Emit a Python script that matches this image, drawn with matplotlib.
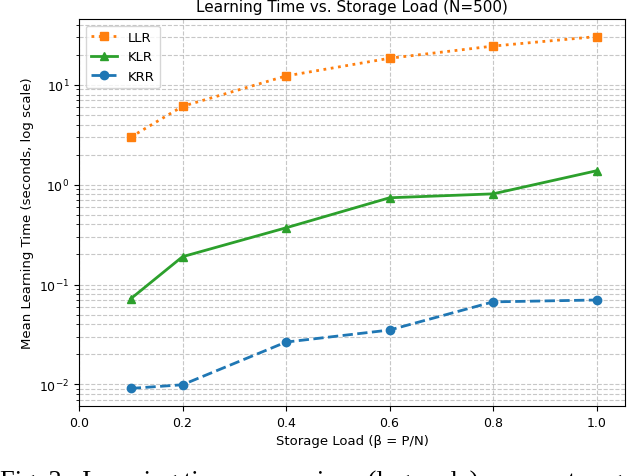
import matplotlib
matplotlib.use("Agg")
import matplotlib.pyplot as plt

beta = [0.1, 0.2, 0.4, 0.6, 0.8, 1.0]
llr_time = [3.0, 6.1, 12.3, 18.5, 24.5, 30.5]
klr_time = [0.072, 0.19, 0.37, 0.74, 0.81, 1.38]
krr_time = [0.0091, 0.0099, 0.0265, 0.035, 0.067, 0.070]

fig = plt.figure(figsize=(6.4, 4.77), dpi=100)
ax = fig.add_axes([79 / 640, 70 / 477, 546 / 640, 387 / 477])

ax.plot(beta, llr_time, color="#ff7f0e", linestyle=":", linewidth=2,
        marker="s", markersize=6, label="LLR")
ax.plot(beta, klr_time, color="#2ca02c", linestyle="-", linewidth=2,
        marker="^", markersize=6, label="KLR")
ax.plot(beta, krr_time, color="#1f77b4", linestyle="--", linewidth=2,
        marker="o", markersize=6, label="KRR")

ax.set_yscale("log")
ax.set_xlim(0.0, 1.055)
ax.set_xticks([0.0, 0.2, 0.4, 0.6, 0.8, 1.0])
ax.tick_params(labelsize=9)
ax.grid(True, which="both", linestyle="--", color="#b0b0b0", alpha=0.7, linewidth=0.8)

ax.set_title("Learning Time vs. Storage Load (N=500)", fontsize=11)
ax.set_xlabel("Storage Load (\u03b2 = P/N)", fontsize=9.5)
ax.set_ylabel("Mean Learning Time (seconds, log scale)", fontsize=9.5)
ax.legend(loc="upper left", fontsize=9.5)

# paper caption, cut off by the bottom edge of the image
fig.text(0.0, -12 / 477, "Fig. 3:  Learning time comparison (log scale) across storage loads.",
         family="Liberation Serif", fontsize=19, va="baseline", ha="left")

fig.savefig("out.png", dpi=100)
